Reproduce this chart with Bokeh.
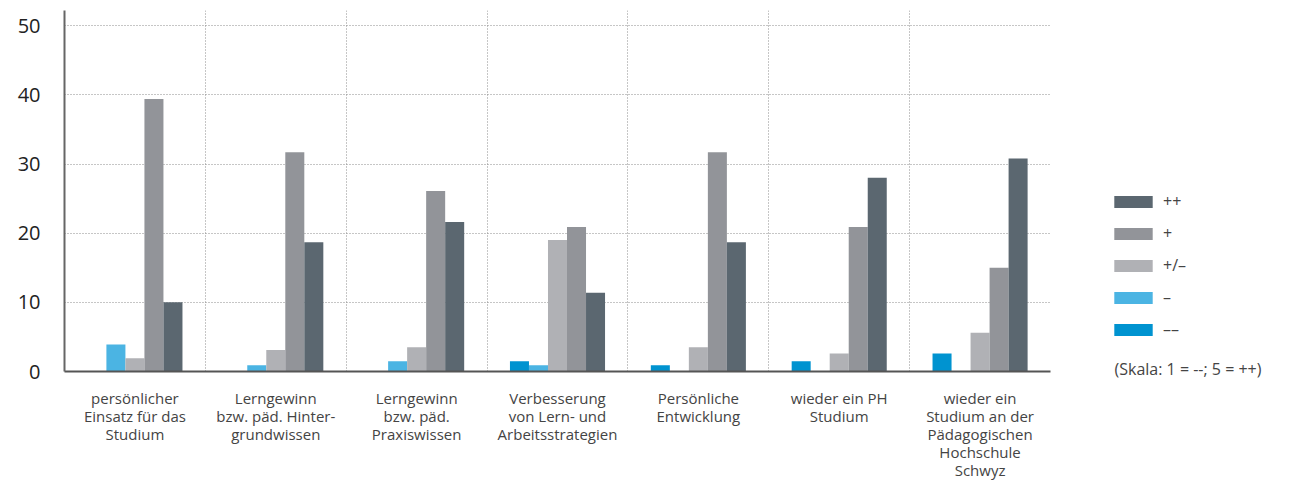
from bokeh.plotting import figure
from bokeh.models import (ColumnDataSource, FixedTicker, Grid, Legend, LegendItem, Label, Range1d)
from bokeh.layouts import row
from bokeh.transform import dodge
from bokeh.embed import file_html
from bokeh.resources import INLINE

categories = [
    "persönlicher\nEinsatz für das\nStudium",
    "Lerngewinn\nbzw. päd. Hinter-\ngrundwissen",
    "Lerngewinn\nbzw. päd.\nPraxiswissen",
    "Verbesserung\nvon Lern- und\nArbeitsstrategien",
    "Persönliche\nEntwicklung",
    "wieder ein PH\nStudium",
    "wieder ein\nStudium an der\nPädagogischen\nHochschule\nSchwyz",
]
series_names = ["––", "–", "+/–", "+", "++"]
vals_mm = [0, 0, 0, 1.5, 0.9, 1.5, 2.6]
vals_m = [3.9, 0.9, 1.5, 0.9, 0, 0, 0]
vals_0 = [1.9, 3.1, 3.5, 19.0, 3.5, 2.6, 5.6]
vals_p = [39.4, 31.7, 26.1, 20.9, 31.7, 20.9, 15.0]
vals_pp = [10.0, 18.7, 21.6, 11.4, 18.7, 28.0, 30.8]
colors = ["#0093d0", "#4bb4e3", "#b0b1b5", "#929499", "#5b6770"]
y_ticks = [0, 10, 20, 30, 40, 50]
scale_note = "(Skala: 1 = --; 5 = ++)"

FONT = "Open Sans"
xpos = [i + 0.5 for i in range(len(categories))]
src = ColumnDataSource(dict(x=xpos, mm=vals_mm, m=vals_m, z=vals_0, p=vals_p, pp=vals_pp))

p = figure(width=1052, height=482, output_backend="svg", toolbar_location=None,
           x_range=Range1d(0, 7), y_range=Range1d(0, 52.2),
           min_border_left=64, min_border_right=2, min_border_top=10, min_border_bottom=108)
p.outline_line_color = None

bw = 0.135
fields = ["mm", "m", "z", "p", "pp"]
for k, (f, c) in enumerate(zip(fields, colors)):
    p.vbar(x=dodge("x", (k - 2) * bw, range=p.x_range), top=f, width=bw, source=src,
           fill_color=c, line_color=None)

# axes
p.xaxis.ticker = FixedTicker(ticks=xpos)
p.xaxis.major_label_overrides = {x: c for x, c in zip(xpos, categories)}
p.xaxis.major_tick_line_color = None
p.xaxis.minor_tick_line_color = None
p.xaxis.axis_line_color = "#555555"
p.xaxis.axis_line_width = 2
p.xaxis.major_label_text_font = FONT
p.xaxis.major_label_text_font_size = "15px"
p.xaxis.major_label_text_color = "#444444"
p.xaxis.major_label_text_line_height = 0.9
p.xaxis.major_label_standoff = 10

p.yaxis.ticker = FixedTicker(ticks=y_ticks)
p.yaxis.major_tick_line_color = None
p.yaxis.minor_tick_line_color = None
p.yaxis.axis_line_color = "#666666"
p.yaxis.axis_line_width = 2
p.yaxis.major_label_text_font = FONT
p.yaxis.major_label_text_font_size = "20px"
p.yaxis.major_label_text_color = "#222222"
p.yaxis.major_label_standoff = 18

# grids
p.xgrid.grid_line_color = None
p.ygrid.ticker = FixedTicker(ticks=y_ticks[1:])
p.ygrid.grid_line_color = "#8c8c8c"
p.ygrid.grid_line_dash = "1 2"
p.ygrid.grid_line_width = 1
vgrid = Grid(dimension=0, ticker=FixedTicker(ticks=[1, 2, 3, 4, 5, 6, 7]),
             grid_line_color="#8c8c8c", grid_line_dash="1 2", grid_line_width=1)
p.add_layout(vgrid)

# legend panel (separate canvas with pixel-like coordinates, own full-height frame)
q = figure(width=248, height=482, output_backend="svg", toolbar_location=None,
           title=None, x_axis_location=None, y_axis_location=None,
           x_range=Range1d(0, 248), y_range=Range1d(0, 482),
           min_border=0, min_border_left=0, min_border_right=0, min_border_top=0, min_border_bottom=0)
q.frame_align = False
q.grid.visible = False
q.outline_line_color = None
dummy = ColumnDataSource(dict(x=[-1000], top=[0]))
leg_r = [q.vbar(x="x", top="top", width=1, source=dummy, fill_color=c, line_color=None)
         for c in colors]
items = [LegendItem(label=n, renderers=[r]) for n, r in zip(series_names, leg_r)][::-1]
legend = Legend(items=items, location=(57, 142), orientation="vertical",
                glyph_width=48, glyph_height=15, label_height=15, spacing=10,
                label_standoff=6, padding=0, margin=0,
                label_text_font=FONT, label_text_font_size="16px",
                label_text_color="#444444", border_line_color=None,
                background_fill_alpha=0)
q.add_layout(legend, "center")
skala = Label(x=62, y=114, text=scale_note, text_font=FONT,
              text_font_size="16px", text_color="#444444", text_baseline="middle")
q.add_layout(skala)

layout = row(p, q, spacing=0)
open("out.html", "w").write(file_html(layout, INLINE))
